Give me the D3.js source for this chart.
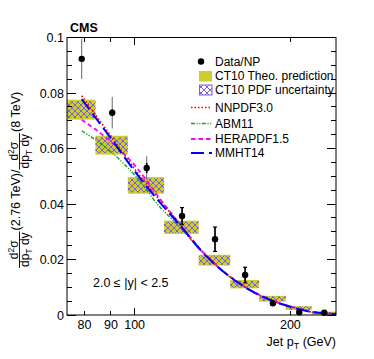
<!DOCTYPE html>
<html lang="en">
<head>
<meta charset="UTF-8">
<title>Jet cross section ratio 2.76 TeV / 8 TeV</title>
<script src="https://d3js.org/d3.v7.min.js"></script>
<style>
  body { margin: 0; background: #fff; }
  svg { display: block; font-family: 'Liberation Sans', Arial, Helvetica, sans-serif; }
  .frame { fill: none; stroke: #000; stroke-width: 1; }
  .tick { stroke: #000; stroke-width: 1; shape-rendering: crispEdges; }
  .lbl { font-size: 12.5px; fill: #000; }
</style>
</head>
<body>
<svg id="chart" width="374" height="359"></svg>
<script>
// pT bins (GeV)
const binEdges = [74, 84, 97, 114, 133, 153, 174, 196, 220, 245];

// data / NP
const dataVal  = [0.0923, 0.0729, 0.0530, 0.0357, 0.0273, 0.0144, 0.0042, 0.0010, 0.0008];
const dataErr  = [0.0072, 0.0057, 0.0042, 0.0030, 0.0044, 0.0028, 0.0007, 0.0004, 0.0003];
const dataStat = [0.0010, 0.0012, 0.0018, 0.0030, 0.0044, 0.0028, 0.0007, 0.0004, 0.0003];

// CT10 total theory band and PDF band
const theoLo = [0.0704, 0.0578, 0.0437, 0.0292, 0.0178, 0.0096, 0.0048, 0.0018, 0.0002];
const theoHi = [0.0776, 0.0646, 0.0497, 0.0340, 0.0217, 0.0126, 0.0069, 0.0032, 0.0012];
const pdfLo  = [0.0710, 0.0584, 0.0442, 0.0296, 0.0181, 0.0099, 0.0050, 0.0019, 0.0003];
const pdfHi  = [0.0770, 0.0640, 0.0492, 0.0336, 0.0214, 0.0123, 0.0067, 0.0031, 0.0011];

// other PDF sets
const curvePt = [79, 90, 101, 112, 122, 135, 153, 167, 183, 200, 218, 233, 245];
const nnpdf   = [0.0790, 0.0645, 0.0515, 0.0412, 0.0330, 0.0230, 0.0137, 0.0090, 0.0054, 0.0030, 0.0012, 0.0006, 0.0004];
const abm     = [0.0664, 0.0588, 0.0495, 0.0388, 0.0320, 0.0226, 0.0136, 0.0089, 0.0054, 0.0030, 0.0012, 0.0006, 0.0004];
const herapdf = [0.0704, 0.0624, 0.0530, 0.0418, 0.0330, 0.0230, 0.0138, 0.0091, 0.0055, 0.0031, 0.0013, 0.0007, 0.0004];
const mmht    = [0.0778, 0.0636, 0.0508, 0.0405, 0.0326, 0.0228, 0.0137, 0.0090, 0.0054, 0.0030, 0.0012, 0.0006, 0.0004];

const yTicks = [0, 0.02, 0.04, 0.06, 0.08, 0.1];
const yTickLabels = ["0", "0.02", "0.04", "0.06", "0.08", "0.1"];
const yMinor = [0.005, 0.01, 0.015, 0.025, 0.03, 0.035, 0.045, 0.05, 0.055, 0.065, 0.07, 0.075, 0.085, 0.09, 0.095];
const xTicks = [80, 90, 100, 200];
const xTickLabels = ["80", "90", "100", "200"];

const L = 67, R = 336, T = 37.5, B = 315;
const svg = d3.select("#chart");
const x = d3.scaleLog().domain([74, 245]).range([L, R]);
const y = d3.scaleLinear().domain([0, 0.1]).range([B, T]);

const defs = svg.append("defs");
const pat = defs.append("pattern")
    .attr("id", "xhatch")
    .attr("patternUnits", "userSpaceOnUse")
    .attr("width", 6).attr("height", 6);
pat.append("path")
    .attr("d", "M0,0 L6,6 M6,0 L0,6 M-1,5 L1,7 M5,-1 L7,1")
    .attr("stroke", "#7a60d8").attr("stroke-width", 1).attr("fill", "none");

const bins = d3.range(binEdges.length - 1).map(i => ({
    lo: binEdges[i], hi: binEdges[i + 1],
    mid: (binEdges[i] + binEdges[i + 1]) / 2,
    val: dataVal[i], err: dataErr[i], stat: dataStat[i],
    tLo: theoLo[i], tHi: theoHi[i], pLo: pdfLo[i], pHi: pdfHi[i]
}));

// theory boxes
svg.append("g").selectAll("rect").data(bins).join("rect")
    .attr("x", d => x(d.lo)).attr("width", d => x(d.hi) - x(d.lo))
    .attr("y", d => y(d.tHi)).attr("height", d => y(d.tLo) - y(d.tHi))
    .attr("fill", "#cdcd30");
svg.append("g").selectAll("rect").data(bins).join("rect")
    .attr("x", d => x(d.lo)).attr("width", d => x(d.hi) - x(d.lo))
    .attr("y", d => y(d.pHi)).attr("height", d => y(d.pLo) - y(d.pHi))
    .attr("fill", "url(#xhatch)");

// curves
const styles = [
    { vals: abm,     color: "#22a022", dash: "4,1.5,1.2,1.5,1.2,1.5", w: 1.4, name: "ABM11" },
    { vals: herapdf, color: "#ff00ff", dash: "4.5,3", w: 1.8, name: "HERAPDF1.5" },
    { vals: nnpdf,   color: "#ff0000", dash: "1.5,2", w: 1.6, name: "NNPDF3.0" },
    { vals: mmht,    color: "#0000ff", dash: "13,5", w: 2, name: "MMHT14" }
];
const line = d3.line().x(d => x(d[0])).y(d => y(d[1])).curve(d3.curveMonotoneX);
styles.forEach(s => {
    svg.append("path")
        .attr("d", line(curvePt.map((p, i) => [p, s.vals[i]])))
        .attr("fill", "none").attr("stroke", s.color)
        .attr("stroke-width", s.w).attr("stroke-dasharray", s.dash);
});

// data points
const pts = svg.append("g");
pts.selectAll(".sys").data(bins).join("line")
    .attr("x1", d => x(d.mid)).attr("x2", d => x(d.mid))
    .attr("y1", d => y(d.val + d.err)).attr("y2", d => y(d.val - d.err))
    .attr("stroke", "#666").attr("stroke-width", 1);
pts.selectAll(".st").data(bins).join("line")
    .attr("x1", d => x(d.mid)).attr("x2", d => x(d.mid))
    .attr("y1", d => y(d.val + d.stat)).attr("y2", d => y(d.val - d.stat))
    .attr("stroke", "#000").attr("stroke-width", 1.6);
bins.filter(d => d.stat >= d.err).forEach(d => {
    [d.val + d.stat, d.val - d.stat].forEach(v => {
        pts.append("line")
            .attr("x1", x(d.mid) - 2).attr("x2", x(d.mid) + 2)
            .attr("y1", y(v)).attr("y2", y(v))
            .attr("stroke", "#000").attr("stroke-width", 1.2);
    });
});
pts.selectAll("circle").data(bins).join("circle")
    .attr("cx", d => x(d.mid)).attr("cy", d => y(d.val)).attr("r", 3.2)
    .attr("fill", "#000");

// frame and ticks
svg.append("rect").attr("class", "frame")
    .attr("x", L).attr("y", T).attr("width", R - L).attr("height", B - T);
const tk = svg.append("g");
yTicks.forEach((v, i) => {
    tk.append("line").attr("class", "tick").attr("x1", L).attr("x2", L + 9).attr("y1", y(v)).attr("y2", y(v));
    tk.append("line").attr("class", "tick").attr("x1", R).attr("x2", R - 9).attr("y1", y(v)).attr("y2", y(v));
    tk.append("text").attr("class", "lbl").attr("x", L - 3).attr("y", y(v)).attr("dy", "0.36em")
        .attr("text-anchor", "end").text(yTickLabels[i]);
});
yMinor.forEach(v => {
    tk.append("line").attr("class", "tick").attr("x1", L).attr("x2", L + 5).attr("y1", y(v)).attr("y2", y(v));
    tk.append("line").attr("class", "tick").attr("x1", R).attr("x2", R - 5).attr("y1", y(v)).attr("y2", y(v));
});
xTicks.forEach((v, i) => {
    const len = v === 100 ? 7 : 4;
    tk.append("line").attr("class", "tick").attr("x1", x(v)).attr("x2", x(v)).attr("y1", B).attr("y2", B - len);
    tk.append("line").attr("class", "tick").attr("x1", x(v)).attr("x2", x(v)).attr("y1", T).attr("y2", T + len);
    tk.append("text").attr("class", "lbl").attr("x", x(v)).attr("y", 328.5)
        .attr("text-anchor", "middle").text(xTickLabels[i]);
});

// x title
const xt = svg.append("text").attr("class", "lbl").attr("x", R).attr("y", 346).attr("text-anchor", "end");
xt.append("tspan").text("Jet p");
xt.append("tspan").attr("dy", 3).style("font-size", "9px").text("T");
xt.append("tspan").attr("dy", -3).text(" (GeV)");

// y title (rotated, with fractions)
const yt = svg.append("g").attr("transform", "translate(20,268) rotate(-90)");
let u = 0;
function frac() {
    const num = yt.append("text").style("font-size", "12px").attr("text-anchor", "middle").attr("y", -2.5);
    num.append("tspan").text("d");
    num.append("tspan").attr("dy", -4).style("font-size", "8.5px").text("2");
    num.append("tspan").attr("dy", 4).text("σ");
    const den = yt.append("text").style("font-size", "12px").attr("text-anchor", "middle").attr("y", 8.5);
    den.append("tspan").text("dp");
    den.append("tspan").attr("dy", 3).style("font-size", "8.5px").text("T");
    den.append("tspan").attr("dy", -3).text(" dy");
    const w = Math.max(num.node().getComputedTextLength(), den.node().getComputedTextLength()) + 2;
    num.attr("x", u + w / 2);
    den.attr("x", u + w / 2);
    yt.append("line").attr("x1", u).attr("x2", u + w).attr("y1", -0.5).attr("y2", -0.5)
        .attr("stroke", "#000").attr("stroke-width", 0.9);
    u += w + 1;
}
function word(s) {
    const t = yt.append("text").attr("class", "lbl").attr("x", u).attr("y", 0).text(s);
    u += t.node().getComputedTextLength();
}
frac();
word("(2.76 TeV)");
word(" / ");
frac();
word("(8 TeV)");

// labels
svg.append("text").attr("x", 70).attr("y", 32).style("font-size", "12.5px").style("font-weight", "bold").text("CMS");
svg.append("text").attr("class", "lbl").attr("x", 93).attr("y", 286.5).text("2.0 ≤ |y| < 2.5");

// legend
const lg = svg.append("g");
const lx = 215;
lg.append("circle").attr("cx", 201).attr("cy", 61.5).attr("r", 3.2).attr("fill", "#000");
lg.append("rect").attr("x", 199).attr("y", 71).attr("width", 13).attr("height", 10.5).attr("fill", "#cdcd30");
lg.append("rect").attr("x", 199.5).attr("y", 85).attr("width", 12.5).attr("height", 10)
    .attr("fill", "url(#xhatch)").attr("stroke", "#7a60d8").attr("stroke-width", 1);
const legRows = [
    { text: "Data/NP", yc: 61.5 },
    { text: "CT10 Theo. prediction", yc: 76 },
    { text: "CT10 PDF uncertainty", yc: 90 }
];
const legLines = [
    { s: styles[2], yc: 107.5 },
    { s: styles[0], yc: 123.5 },
    { s: styles[1], yc: 139 },
    { s: styles[3], yc: 153 }
];
legLines.forEach(d => {
    lg.append("line").attr("x1", 191).attr("x2", 212).attr("y1", d.yc).attr("y2", d.yc)
        .attr("stroke", d.s.color).attr("stroke-width", d.s.w).attr("stroke-dasharray", d.s.dash);
    legRows.push({ text: d.s.name, yc: d.yc });
});
legRows.forEach(d => {
    lg.append("text").style("font-size", "12px").attr("x", lx).attr("y", d.yc).attr("dy", "0.36em").text(d.text);
});
</script>
</body>
</html>
